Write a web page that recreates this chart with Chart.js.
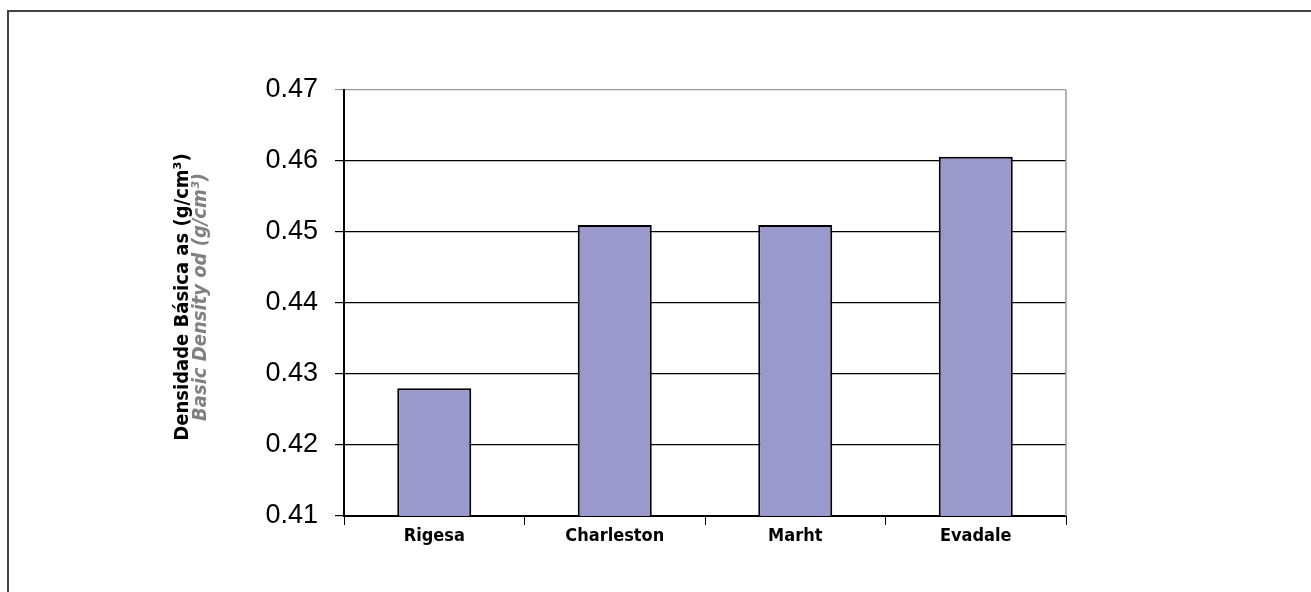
<!DOCTYPE html>
<html>
<head>
<meta charset="utf-8">
<script src="https://cdn.jsdelivr.net/npm/chart.js@4/dist/chart.umd.min.js"></script>
<style>
  html, body { margin: 0; padding: 0; background: #fff; width: 1311px; height: 592px; overflow: hidden; }
  #frame { position: absolute; left: 7px; top: 10px; width: 1400px; height: 700px; border-top: 2px solid #444; border-left: 2px solid #444; }
  #wrap { position: absolute; left: 0; top: 0; width: 1311px; height: 592px; }
</style>
</head>
<body>
<div id="frame"></div>
<div id="wrap"><canvas id="c" width="1311" height="592"></canvas></div>
<script>
const categories = ["Rigesa", "Charleston", "Marht", "Evadale"];
const densityValues = [0.428, 0.451, 0.451, 0.4606];
const yTickMin = 0.41;
const yTickMax = 0.47;
const yTickStep = 0.01;
const yTitleLine1 = "Densidade Básica as (g/cm³)";
const yTitleLine2 = "Basic Density od (g/cm³)";

const NARROW = "'DejaVu Sans Condensed', 'Liberation Sans Narrow', 'Liberation Sans', Arial, sans-serif";

const extras = {
  id: 'extras',
  afterDraw(chart) {
    const ctx = chart.ctx;
    const a = chart.chartArea;
    ctx.save();
    ctx.strokeStyle = '#999';
    ctx.lineWidth = 1.5;
    ctx.beginPath();
    ctx.moveTo(a.right, a.top);
    ctx.lineTo(a.right, a.bottom);
    ctx.stroke();
    // y-axis two-line title
    const cy = (a.top + a.bottom) / 2 - 6;
    ctx.translate(183, cy);
    ctx.rotate(-Math.PI / 2);
    ctx.textAlign = 'center';
    ctx.textBaseline = 'middle';
    ctx.fillStyle = '#000';
    ctx.font = "bold 20px " + NARROW;
    ctx.fillText(yTitleLine1, 0, 0);
    ctx.fillStyle = '#808080';
    ctx.font = "italic bold 20px " + NARROW;
    ctx.fillText(yTitleLine2, 0, 18);
    ctx.restore();
  }
};

new Chart(document.getElementById('c'), {
  type: 'bar',
  data: {
    labels: categories,
    datasets: [{
      data: densityValues,
      backgroundColor: '#9999cc',
      borderColor: '#000',
      borderWidth: 2,
      borderSkipped: 'start',
      categoryPercentage: 1,
      barPercentage: 0.41
    }]
  },
  options: {
    responsive: false,
    animation: false,
    layout: { padding: { left: 250, top: 90, right: 245, bottom: 0 } },
    plugins: { legend: { display: false }, tooltip: { enabled: false } },
    scales: {
      x: {
        offset: true,
        grid: { display: true, offset: true, drawOnChartArea: false, drawTicks: true, tickLength: 9, color: '#000', lineWidth: 1 },
        border: { display: true, color: '#000', width: 2 },
        ticks: { color: '#000', font: { family: NARROW, size: 18, weight: 'bold' }, padding: 1 },
        afterFit(s) { s.height = 592 - 516; }
      },
      y: {
        min: yTickMin,
        max: yTickMax,
        grid: {
          color: (c) => (c.tick && Math.abs(c.tick.value - yTickMax) < 1e-9 ? '#999' : '#000'),
          lineWidth: 1.2,
          drawTicks: true,
          tickLength: 9
        },
        border: { display: true, color: '#000', width: 2 },
        ticks: {
          stepSize: yTickStep,
          color: '#000',
          font: { family: "'Liberation Sans', Arial, sans-serif", size: 27 },
          padding: 17,
          callback: (v) => Number(v).toFixed(2)
        },
        afterFit(s) { s.width = 344 - 250; }
      }
    }
  },
  plugins: [extras]
});
</script>
</body>
</html>
